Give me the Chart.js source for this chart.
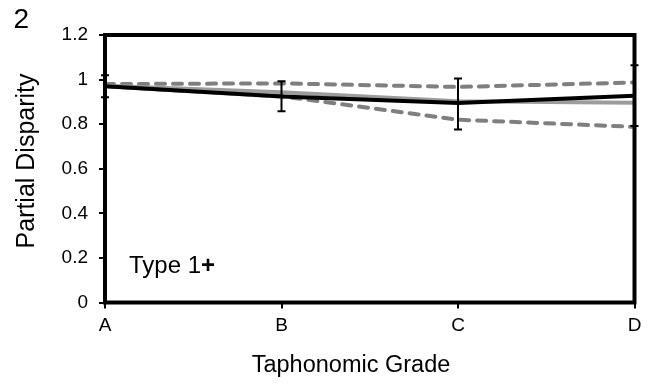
<!DOCTYPE html>
<html>
<head>
<meta charset="utf-8">
<script src="https://cdn.jsdelivr.net/npm/chart.js@4"></script>
<style>
html,body{margin:0;padding:0;background:#fff;}
#wrap{width:649px;height:384px;position:relative;}
</style>
</head>
<body>
<div id="wrap"><canvas id="c" width="649" height="384"></canvas></div>
<script>
// ---- data ----
const categories = ['A', 'B', 'C', 'D'];
const meanValues = [0.970, 0.924, 0.895, 0.928];      // black solid line
const graySolidValues = [0.972, 0.943, 0.903, 0.896]; // grey solid line
const upperDashValues = [0.980, 0.983, 0.967, 0.987]; // grey dashed upper
const lowerDashValues = [0.970, 0.925, 0.820, 0.788]; // grey dashed lower
const errLow = [0.921, 0.858, 0.776, 0.792];
const errHigh = [1.019, 0.992, 1.005, 1.064];
const yTickValues = [0, 0.2, 0.4, 0.6, 0.8, 1, 1.2];
const yTickLabels = ['0', '0.2', '0.4', '0.6', '0.8', '1', '1.2'];
const yTitle = 'Partial Disparity';
const xTitle = 'Taphonomic Grade';
const panelLabel = '2';
const annotationMain = 'Type 1';
const annotationPlus = '+';

const FONT = '"Liberation Sans", Arial, sans-serif';

const framePlugin = {
  id: 'frame',
  afterDatasetsDraw(chart) {
    const {ctx, chartArea: a, scales} = chart;
    const xs = scales.x, ys = scales.y;
    ctx.save();
    ctx.strokeStyle = '#000';
    ctx.lineWidth = 2;
    for (let i = 0; i < categories.length; i++) {
      const x = xs.getPixelForValue(i);
      const y1 = ys.getPixelForValue(errLow[i]);
      const y2 = ys.getPixelForValue(errHigh[i]);
      ctx.beginPath();
      ctx.moveTo(x, y1); ctx.lineTo(x, y2);
      ctx.moveTo(x - 4, y1); ctx.lineTo(x + 4, y1);
      ctx.moveTo(x - 4, y2); ctx.lineTo(x + 4, y2);
      ctx.stroke();
    }
    ctx.lineWidth = 4;
    ctx.strokeRect(a.left, a.top, a.right - a.left, a.bottom - a.top);
    ctx.restore();
  },
  afterDraw(chart) {
    const {ctx} = chart;
    ctx.save();
    ctx.fillStyle = '#000';
    ctx.textBaseline = 'alphabetic';
    ctx.font = '28px ' + FONT;
    ctx.textAlign = 'left';
    ctx.fillText(panelLabel, 13.5, 28);
    ctx.font = '24px ' + FONT;
    ctx.fillText(annotationMain, 129, 273);
    const w = ctx.measureText(annotationMain).width;
    ctx.font = 'bold 24px ' + FONT;
    ctx.fillText(annotationPlus, 129 + w, 273);
    ctx.font = '23.5px ' + FONT;
    ctx.textAlign = 'center';
    ctx.fillText(xTitle, 351, 371.5);
    ctx.translate(33.5, 161);
    ctx.rotate(-Math.PI / 2);
    ctx.font = '25px ' + FONT;
    ctx.fillText(yTitle, 0, 0);
    ctx.restore();
  }
};

const lineDs = (data, color, width, dash) => ({
  data, borderColor: color, backgroundColor: color, borderWidth: width,
  borderDash: dash || [], borderCapStyle: dash ? 'round' : 'butt',
  pointRadius: 0, tension: 0, fill: false
});

new Chart(document.getElementById('c'), {
  type: 'line',
  data: {
    labels: categories,
    datasets: [
      lineDs(meanValues, '#000000', 4),
      lineDs(graySolidValues, '#9c9c9c', 4),
      lineDs(upperDashValues, '#7f7f7f', 4, [9, 8]),
      lineDs(lowerDashValues, '#7f7f7f', 4, [9, 8])
    ]
  },
  options: {
    responsive: false,
    animation: false,
    devicePixelRatio: 1,
    layout: { padding: { top: 35, right: 14.5, left: 0, bottom: 0 } },
    plugins: { legend: { display: false }, tooltip: { enabled: false } },
    scales: {
      x: {
        offset: false,
        border: { display: false },
        grid: { display: true, drawOnChartArea: false, drawTicks: true, tickLength: 6, color: '#000', lineWidth: 2 },
        ticks: { color: '#000', font: { family: FONT, size: 19 }, padding: 6, maxRotation: 0 },
        afterFit(s) { s.height = 81.5; }
      },
      y: {
        min: 0, max: 1.2,
        border: { display: false },
        grid: { display: true, drawOnChartArea: false, drawTicks: true, tickLength: 6, color: '#000', lineWidth: 2 },
        afterBuildTicks(s) { s.ticks = yTickValues.map(v => ({ value: v })); },
        ticks: {
          color: '#000', font: { family: FONT, size: 19 }, padding: 11,
          callback: (v) => { const i = yTickValues.findIndex(t => Math.abs(t - v) < 1e-9); return i >= 0 ? yTickLabels[i] : ''; }
        },
        afterFit(s) { s.width = 105; }
      }
    }
  },
  plugins: [framePlugin]
});
</script>
</body>
</html>
